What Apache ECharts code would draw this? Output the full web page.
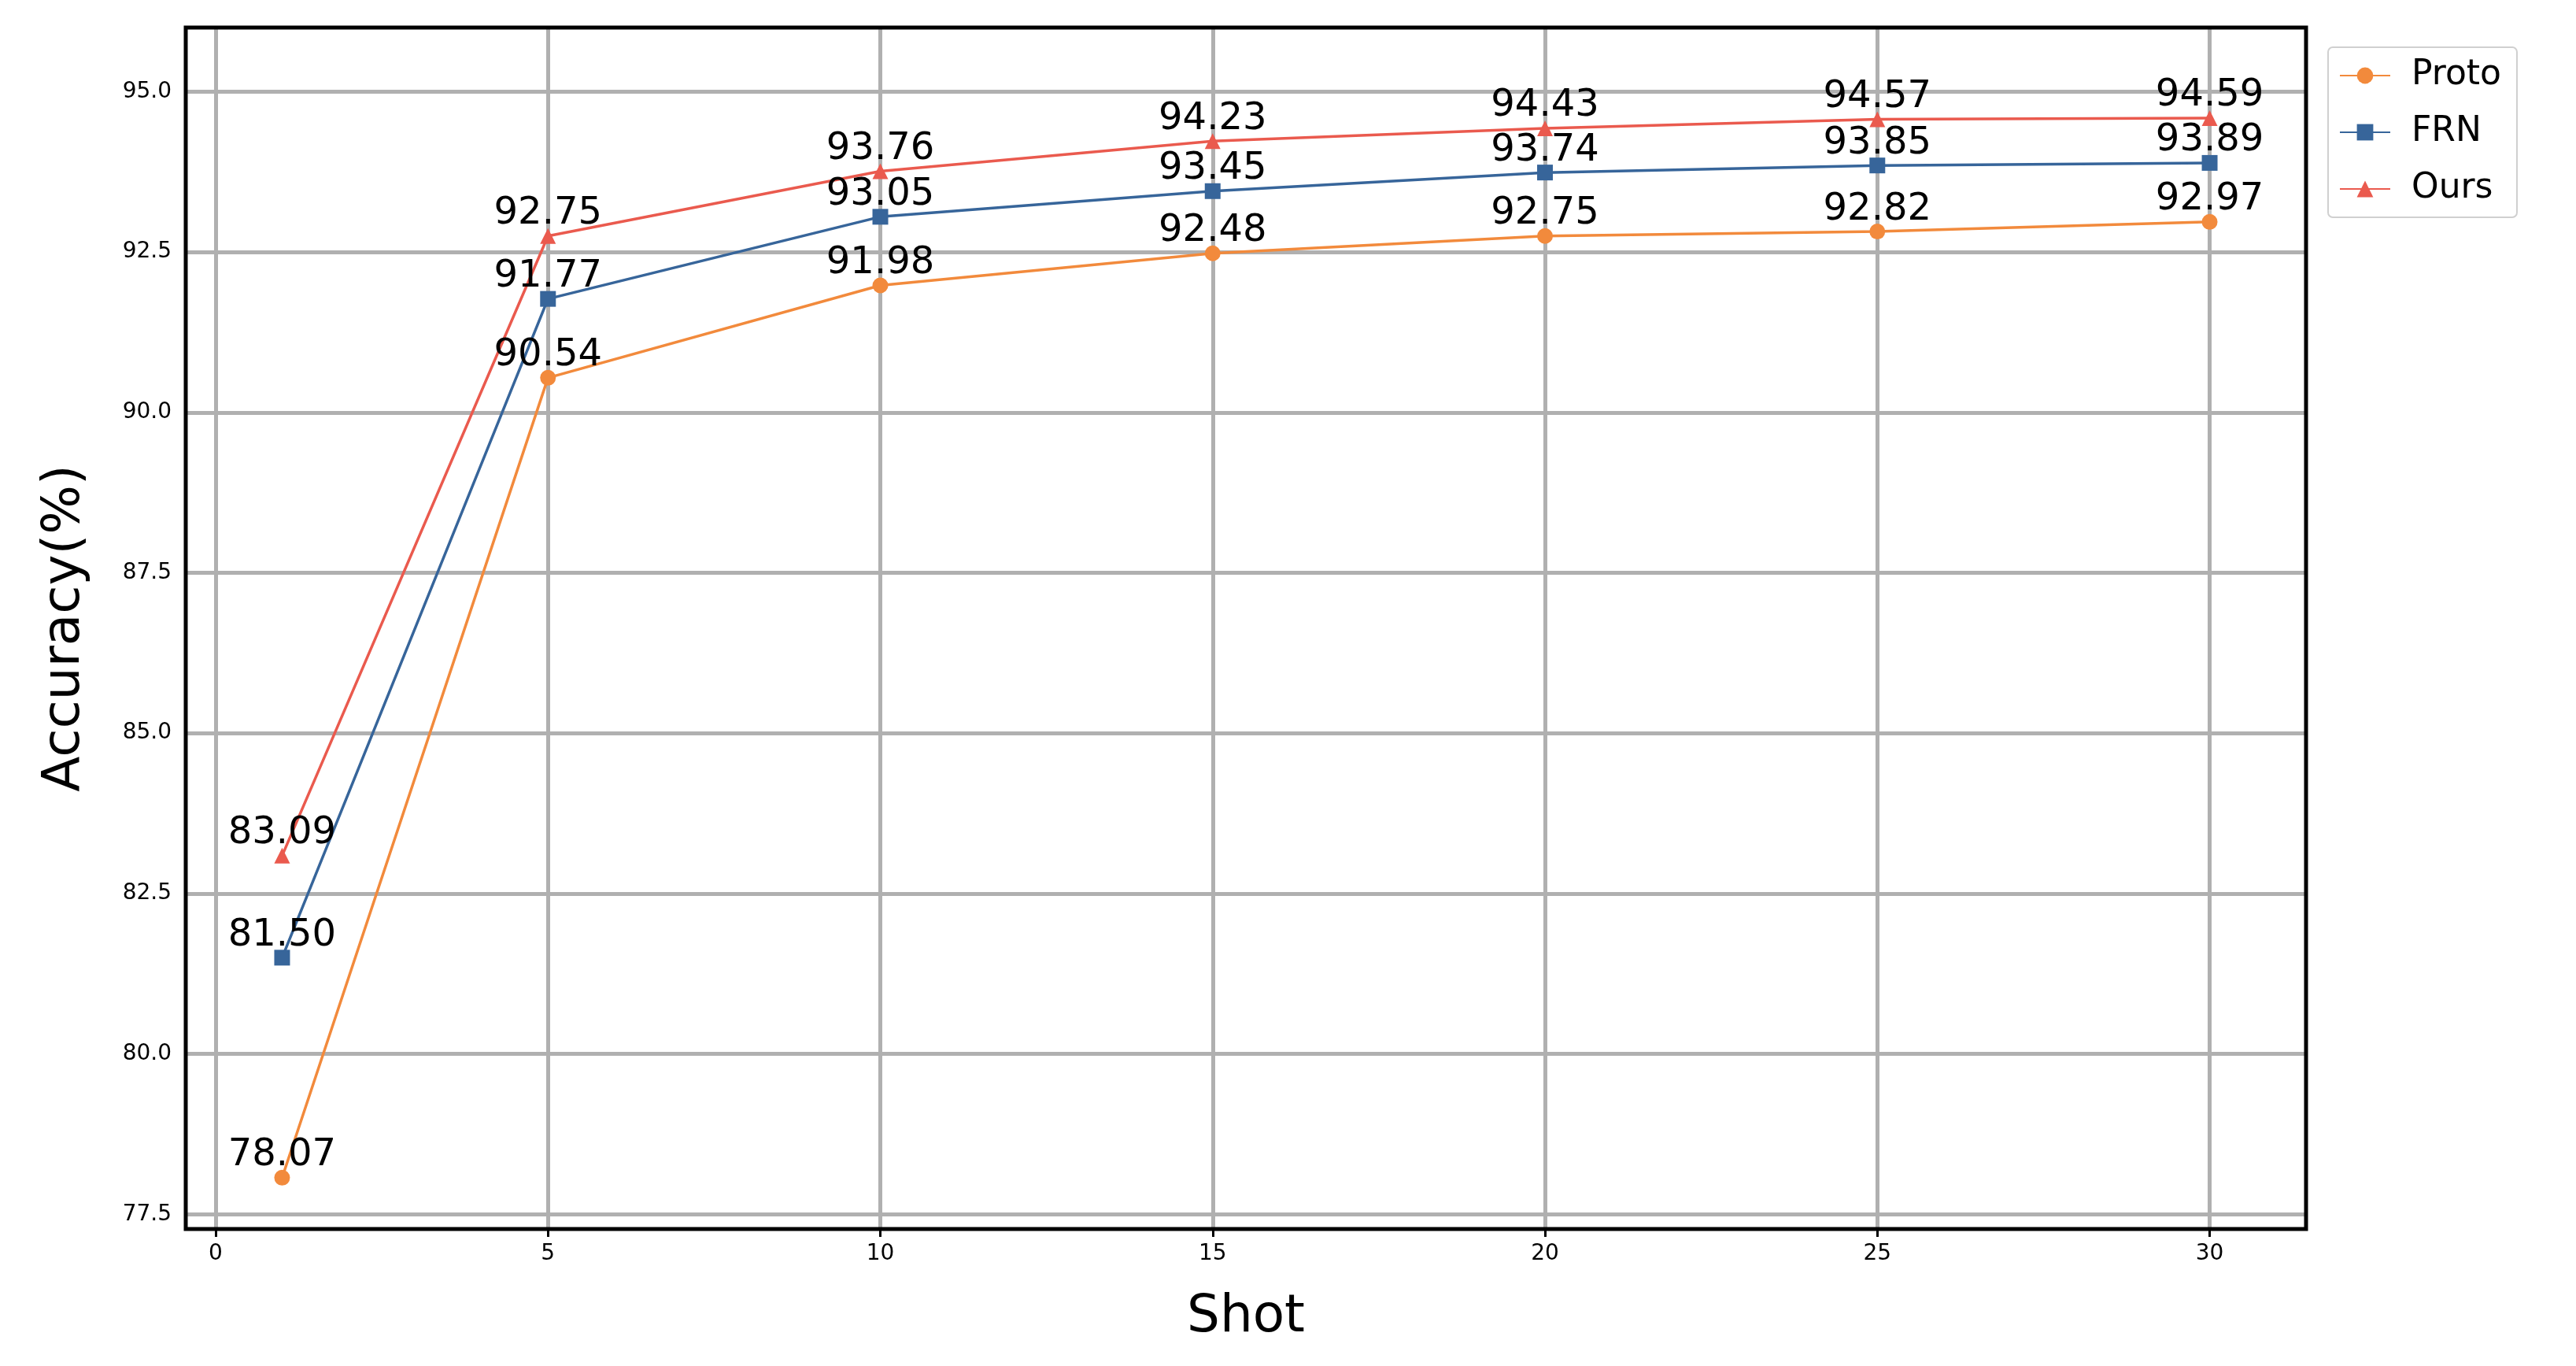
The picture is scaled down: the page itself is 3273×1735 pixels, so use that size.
<!DOCTYPE html>
<html><head><meta charset="utf-8">
<script src="https://cdn.jsdelivr.net/npm/echarts@6/dist/echarts.min.js"></script>
<style>html,body{margin:0;padding:0;background:#fff}#c{width:3273px;height:1735px}</style>
</head><body><div id="c"></div>
<script>
const shots = [1, 5, 10, 15, 20, 25, 30];
const proto = [78.07, 90.54, 91.98, 92.48, 92.75, 92.82, 92.97];
const frn = [81.50, 91.77, 93.05, 93.45, 93.74, 93.85, 93.89];
const ours = [83.09, 92.75, 93.76, 94.23, 94.43, 94.57, 94.59];
const xTicks = [0, 5, 10, 15, 20, 25, 30];
const yTicks = [77.5, 80.0, 82.5, 85.0, 87.5, 90.0, 92.5, 95.0];

const font = 'DejaVu Sans';
const mk = (name, data, color, symbol) => ({
  name, type: 'line', data: shots.map((s, i) => [s, data[i]]),
  color, symbol, symbolSize: 20, lineStyle: {width: 3.5, color},
  itemStyle: {color}, z: 5,
  label: {show: true, position: 'top', distance: -6, fontFamily: font, fontSize: 48, color: '#000',
    formatter: p => p.value[1].toFixed(2)}
});
const gridLines = {
  name: '_grid', type: 'line', data: [], silent: true, z: 1,
  markLine: {silent: true, symbol: 'none', label: {show: false},
    lineStyle: {color: '#b0b0b0', width: 5, type: 'solid'},
    data: xTicks.map(v => ({xAxis: v})).concat(yTicks.map(v => ({yAxis: v})))}
};
const chart = echarts.init(document.getElementById('c'));
chart.setOption({
  animation: false,
  backgroundColor: '#fff',
  grid: {left: 236, right: 343, top: 35, bottom: 174, show: true, borderColor: '#000', borderWidth: 5, backgroundColor: 'transparent', z: 10},
  legend: {
    data: ['Proto', 'FRN', 'Ours'], orient: 'vertical', left: 2958, top: 60,
    itemWidth: 64, itemHeight: 26, itemGap: 28, padding: [14, 20, 14, 14],
    backgroundColor: '#fff', borderColor: '#d0d0d0', borderWidth: 2, borderRadius: 6,
    textStyle: {fontFamily: font, fontSize: 44, color: '#000', padding: [0, 0, 0, 22]}
  },
  xAxis: {
    type: 'value', min: -0.45, max: 31.45,
    name: 'Shot', nameLocation: 'middle', nameGap: 80,
    nameTextStyle: {fontFamily: font, fontSize: 66, color: '#000'},
    axisLine: {show: false}, splitLine: {show: false},
    axisTick: {show: true, customValues: xTicks, length: 10, lineStyle: {color: '#000', width: 3}},
    axisLabel: {customValues: xTicks, fontFamily: font, fontSize: 28, color: '#000', margin: 18}
  },
  yAxis: {
    type: 'value', min: 77.27, max: 96.0,
    name: 'Accuracy(%)', nameLocation: 'middle', nameGap: 120,
    nameTextStyle: {fontFamily: font, fontSize: 66, color: '#000'},
    axisLine: {show: false}, splitLine: {show: false},
    axisTick: {show: true, customValues: yTicks, length: 10, lineStyle: {color: '#000', width: 3}},
    axisLabel: {customValues: yTicks, fontFamily: font, fontSize: 28, color: '#000', margin: 18,
      formatter: v => v.toFixed(1)}
  },
  series: [gridLines,
    mk('Proto', proto, '#f28a3c', 'circle'),
    mk('FRN', frn, '#37659a', 'rect'),
    mk('Ours', ours, '#ea5a4e', 'triangle')]
});
</script></body></html>
